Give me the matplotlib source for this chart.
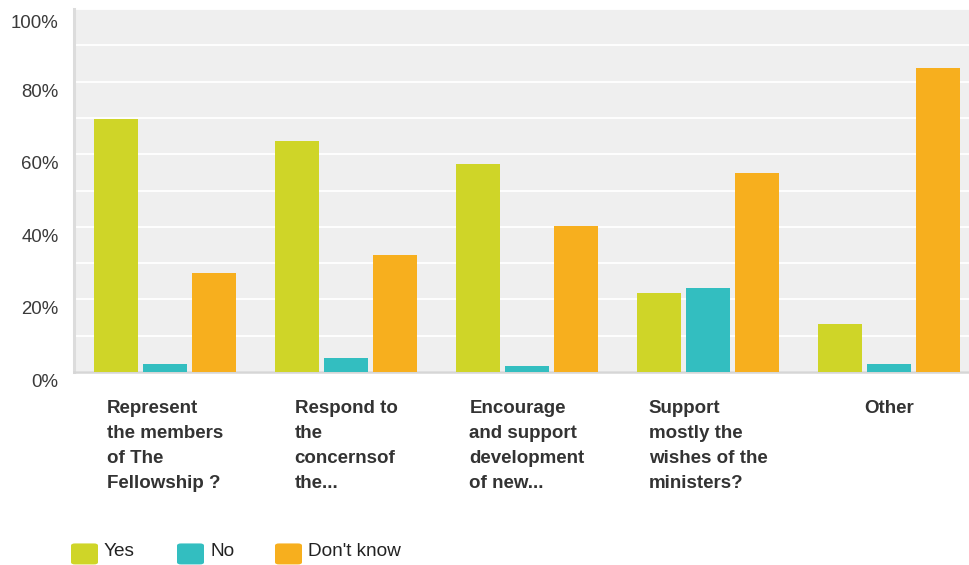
import matplotlib
matplotlib.use("Agg")
import matplotlib.pyplot as plt
import numpy as np
from matplotlib.patches import FancyBboxPatch
from matplotlib.transforms import ScaledTranslation

categories = [
    "Represent\nthe members\nof The\nFellowship ?",
    "Respond to\nthe\nconcernsof\nthe...",
    "Encourage\nand support\ndevelopment\nof new...",
    "Support\nmostly the\nwishes of the\nministers?",
    "Other",
]
series_names = ["Yes", "No", "Don't know"]
yes_vals = [69.7, 63.6, 57.3, 21.8, 13.2]
no_vals = [2.2, 3.9, 1.7, 23.1, 2.2]
dk_vals = [27.3, 32.2, 40.2, 54.8, 83.7]
ytick_vals = [0, 20, 40, 60, 80, 100]
ytick_labels = ["0%", "20%", "40%", "60%", "80%", "100%"]

colors = ["#cfd528", "#33bec0", "#f7af1e"]

plt.rcParams['font.family'] = ['Liberation Sans', 'DejaVu Sans']

W, H = 969, 565
fig = plt.figure(figsize=(W / 100, H / 100), dpi=100)
ax_left, ax_right, ax_top, ax_bot = 74, 969, 9, 372
ax = fig.add_axes([ax_left / W, (H - ax_bot) / H, (ax_right - ax_left) / W, (ax_bot - ax_top) / H])
ax.set_facecolor("#efefef")

x = np.arange(len(categories))
pitch = 0.27
width = 0.243
for i, (vals, c) in enumerate(zip([yes_vals, no_vals, dk_vals], colors)):
    ax.bar(x + (i - 1) * pitch, vals, width=width, color=c, zorder=3, linewidth=0)

ax.set_ylim(0, 100)
ax.set_xlim(-0.503, 4.442)
ax.set_yticks(ytick_vals)
ax.set_yticklabels(ytick_labels, fontsize=13.4, color="#3a3a3a")
ax.set_yticks(np.arange(10, 100, 20), minor=True)
ax.grid(True, which="both", axis="y", color="white", linewidth=1.3, zorder=1)
ax.tick_params(axis="y", which="both", length=0, pad=11)
ax.tick_params(axis="x", length=0)
ax.set_xticks(x)
ax.set_xticklabels([])
labs = ax.get_yticklabels()
for k, lab in enumerate(labs):
    dy = -0.12 if k == len(labs) - 1 else -0.085
    lab.set_transform(lab.get_transform() + ScaledTranslation(0, dy, fig.dpi_scale_trans))

for s in ["top", "right"]:
    ax.spines[s].set_visible(False)
ax.spines["left"].set_color("#dcdcdc")
ax.spines["left"].set_linewidth(2.2)
ax.spines["bottom"].set_color("#d6d6d6")
ax.spines["bottom"].set_linewidth(1.8)

for xi, cat in zip(x, categories):
    ax.annotate(cat, xy=(xi, 0), xycoords=("data", "axes fraction"),
                xytext=(0, -20), textcoords="offset points",
                ha="center", va="top", multialignment="left",
                fontsize=13.5, fontweight="bold", color="#333333",
                linespacing=1.62)

# legend
leg_items = [(71, "Yes"), (177, "No"), (275, "Don't know")]
for (lx, name), c in zip(leg_items, colors):
    box = FancyBboxPatch((lx / W, (H - 565) / H + 0.001), 27 / W, 21 / H,
                         boxstyle="round,pad=0,rounding_size=0.004",
                         transform=fig.transFigure, facecolor=c, edgecolor="none")
    fig.patches.append(box)
    fig.text((lx + 33) / W, (H - 552) / H, name, fontsize=13.7, color="#222222",
             ha="left", va="center")

fig.savefig("out.png", dpi=100)
